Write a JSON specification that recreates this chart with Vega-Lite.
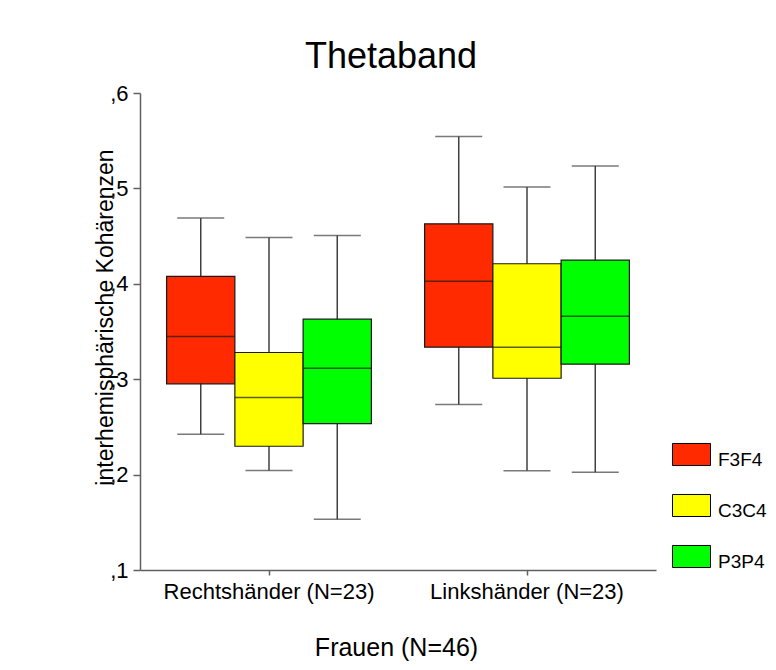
{
  "$schema": "https://vega.github.io/schema/vega-lite/v6.json",
  "autosize": "none",
  "width": 516,
  "height": 477,
  "padding": {"left": 140, "top": 93, "right": 120, "bottom": 100},
  "background": "white",
  "config": {
    "view": {"stroke": null},
    "font": "Liberation Sans"
  },
  "title": {
    "text": "Thetaband",
    "fontSize": 36,
    "font": "Liberation Sans",
    "fontWeight": "normal",
    "color": "#000",
    "anchor": "middle",
    "frame": "group",
    "baseline": "alphabetic",
    "offset": 23,
    "dx": -7,
    "dy": 45
  },
  "data": {
    "values": [
      {"group": "Rechtshänder (N=23)", "lead": "F3F4", "min": 0.2423, "q1": 0.2951, "median": 0.3448, "q3": 0.4077, "max": 0.4689},
      {"group": "Rechtshänder (N=23)", "lead": "C3C4", "min": 0.2042, "q1": 0.2297, "median": 0.2808, "q3": 0.3280, "max": 0.4486},
      {"group": "Rechtshänder (N=23)", "lead": "P3P4", "min": 0.1531, "q1": 0.2535, "median": 0.3115, "q3": 0.3629, "max": 0.4507},
      {"group": "Linkshänder (N=23)", "lead": "F3F4", "min": 0.2734, "q1": 0.3336, "median": 0.4028, "q3": 0.4629, "max": 0.5545},
      {"group": "Linkshänder (N=23)", "lead": "C3C4", "min": 0.2041, "q1": 0.3010, "median": 0.3336, "q3": 0.4210, "max": 0.5014},
      {"group": "Linkshänder (N=23)", "lead": "P3P4", "min": 0.2024, "q1": 0.3157, "median": 0.3661, "q3": 0.4248, "max": 0.5234}
    ]
  },
  "encoding": {
    "x": {
      "field": "group",
      "type": "nominal",
      "sort": ["Rechtshänder (N=23)", "Linkshänder (N=23)"],
      "scale": {"paddingInner": 0, "paddingOuter": 0},
      "axis": {
        "title": "Frauen (N=46)",
        "labelAngle": 0,
        "labelFontSize": 22,
        "labelFont": "Liberation Sans",
        "labelColor": "#000",
        "labelBaseline": "alphabetic",
        "labelLimit": 0,
        "labelPadding": 23,
        "tickSize": 5,
        "tickColor": "#606060",
        "tickWidth": 1.5,
        "domainColor": "#606060",
        "domainWidth": 1.5,
        "titleFontSize": 25,
        "titleFont": "Liberation Sans",
        "titleFontWeight": "normal",
        "titleColor": "#000",
        "titleBaseline": "alphabetic",
        "titleY": 85,
        "titleX": 256
      }
    },
    "xOffset": {
      "field": "lead",
      "type": "nominal",
      "sort": ["F3F4", "C3C4", "P3P4"],
      "scale": {"paddingInner": 0, "paddingOuter": 0.39}
    }
  },
  "layer": [
    {
      "mark": {"type": "rule", "color": "#404040", "strokeWidth": 1.5},
      "encoding": {
        "y": {
          "field": "min",
          "type": "quantitative",
          "scale": {"domain": [0.1, 0.6], "nice": false, "zero": false},
          "axis": {
            "title": "interhemisphärische Kohärenzen",
            "values": [0.1, 0.2, 0.3, 0.4, 0.5, 0.6],
            "labelExpr": "',' + round(datum.value * 10)",
            "labelFontSize": 22,
            "labelFont": "Liberation Sans",
            "labelColor": "#000",
            "labelPadding": 5,
            "tickSize": 7,
            "tickColor": "#606060",
            "tickWidth": 1.5,
            "domainColor": "#606060",
            "domainWidth": 1.5,
            "grid": false,
            "titleFontSize": 23,
            "titleFont": "Liberation Sans",
            "titleFontWeight": "normal",
            "titleColor": "#000",
            "titleAngle": 270,
            "titleBaseline": "alphabetic",
            "titleX": -28,
            "titleY": 224
          }
        },
        "y2": {"field": "max"}
      }
    },
    {
      "mark": {"type": "bar", "stroke": "#1a1a1a", "strokeWidth": 1.2},
      "encoding": {
        "y": {"field": "q1", "type": "quantitative"},
        "y2": {"field": "q3"},
        "fill": {
          "field": "lead",
          "type": "nominal",
          "sort": ["F3F4", "C3C4", "P3P4"],
          "scale": {"domain": ["F3F4", "C3C4", "P3P4"], "range": ["#ff2a00", "#ffff00", "#00ff00"]},
          "legend": {
            "title": null,
            "orient": "none",
            "legendX": 532,
            "legendY": 342,
            "padding": 0,
            "symbolType": "M-1,-0.58L1,-0.58L1,0.58L-1,0.58Z",
            "symbolSize": 1444,
            "symbolStrokeColor": "#000",
            "symbolStrokeWidth": 1,
            "symbolOpacity": 1,
            "rowPadding": 16,
            "labelFontSize": 19,
            "labelFont": "Liberation Sans",
            "labelColor": "#000",
            "labelOffset": 7,
            "labelBaseline": "middle",
            "encode": {"labels": {"update": {"dy": {"value": 5}}}}
          }
        }
      }
    },
    {
      "mark": {"type": "tick", "color": "#1a1a1a", "thickness": 1.5, "size": 68},
      "encoding": {
        "y": {"field": "median", "type": "quantitative"}
      }
    },
    {
      "mark": {"type": "tick", "color": "#404040", "thickness": 1.5, "size": 47},
      "encoding": {
        "y": {"field": "max", "type": "quantitative"}
      }
    },
    {
      "mark": {"type": "tick", "color": "#404040", "thickness": 1.5, "size": 47},
      "encoding": {
        "y": {"field": "min", "type": "quantitative"}
      }
    }
  ]
}
